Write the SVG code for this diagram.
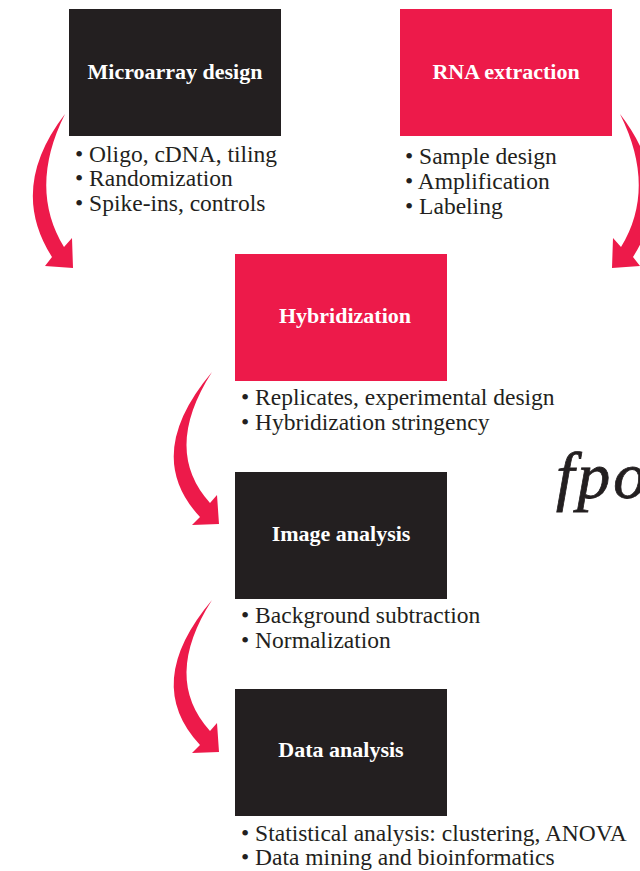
<svg xmlns="http://www.w3.org/2000/svg" width="640" height="871" viewBox="0 0 640 871">
<style>
.dark{fill:#231f20}
.red{fill:#ed1a4a}
.title{font-family:"Liberation Serif",serif;font-weight:bold;font-size:22px;fill:#ffffff;text-anchor:middle}
.bul{font-family:"Liberation Serif",serif;font-size:23.5px;fill:#231f20}
.arrow{fill:#ed1a4a}
</style>
<defs>
<path id="arrowA" d="M 65,114 Q 8,188 52,257 L 45,266 L 73,268 L 72,238 L 64,247 Q 28,188 65,114 Z"/>
<path id="arrowB" d="M 212,372 Q 142,455 200,517 L 192,525 L 219,524 L 217,495 L 210,503 Q 162,450 212,372 Z"/>
</defs>
<rect width="640" height="871" fill="#ffffff"/>
<g id="connectors">
<use href="#arrowA" class="arrow"/>
<use href="#arrowA" class="arrow" transform="translate(685,0) scale(-1,1)"/>
<use href="#arrowB" class="arrow"/>
<use href="#arrowB" class="arrow" transform="translate(0,228)"/>
</g>
<g id="microarray-design">
<rect class="dark" x="69" y="9" width="212" height="127"/>
<text class="title" x="175" y="79">Microarray design</text>
<text class="bul" x="75" y="162">• Oligo, cDNA, tiling</text>
<text class="bul" x="75" y="186">• Randomization</text>
<text class="bul" x="75" y="211">• Spike-ins, controls</text>
</g>
<g id="rna-extraction">
<rect class="red" x="400" y="9" width="212" height="127"/>
<text class="title" x="506" y="79">RNA extraction</text>
<text class="bul" x="405" y="164">• Sample design</text>
<text class="bul" x="405" y="189">• Amplification</text>
<text class="bul" x="405" y="214">• Labeling</text>
</g>
<g id="hybridization">
<rect class="red" x="235" y="254" width="212" height="127"/>
<text class="title" x="345" y="323">Hybridization</text>
<text class="bul" x="241" y="405">• Replicates, experimental design</text>
<text class="bul" x="241" y="430">• Hybridization stringency</text>
</g>
<g id="image-analysis">
<rect class="dark" x="235" y="472" width="212" height="127"/>
<text class="title" x="341" y="541">Image analysis</text>
<text class="bul" x="241" y="623">• Background subtraction</text>
<text class="bul" x="241" y="648">• Normalization</text>
</g>
<g id="data-analysis">
<rect class="dark" x="235" y="689" width="212" height="127"/>
<text class="title" x="341" y="757">Data analysis</text>
<text class="bul" x="241" y="841">• Statistical analysis: clustering, ANOVA</text>
<text class="bul" x="241" y="865">• Data mining and bioinformatics</text>
</g>
<text x="556" y="498" font-family="Liberation Serif, serif" font-style="italic" font-size="66" letter-spacing="3" fill="#231f20" stroke="#231f20" stroke-width="0.8">fpo</text>
</svg>
